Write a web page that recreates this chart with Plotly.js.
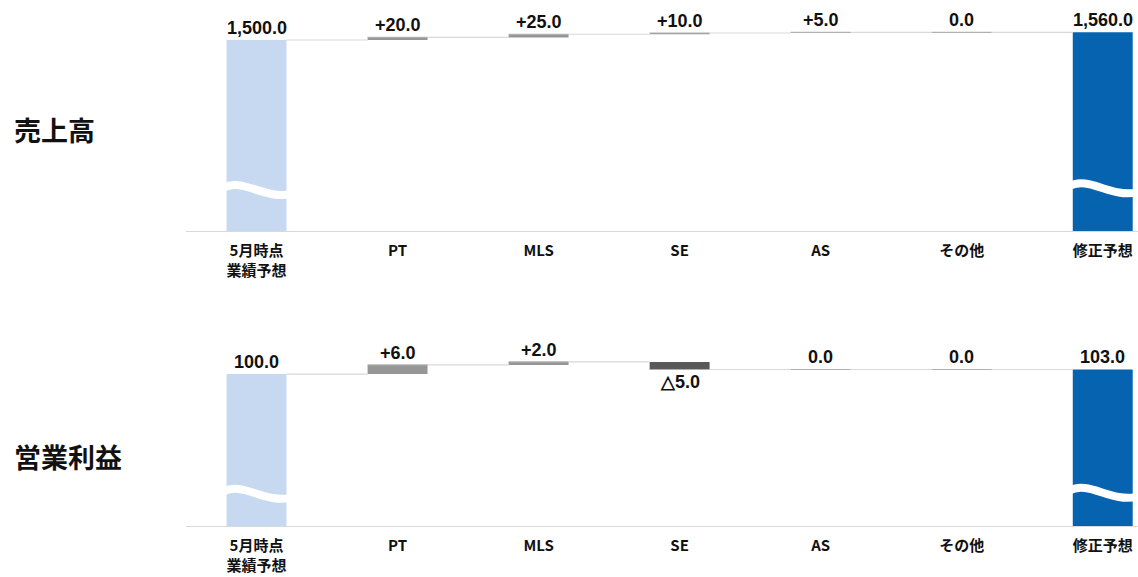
<!DOCTYPE html>
<html>
<head>
<meta charset="utf-8">
<script src="https://cdn.plot.ly/plotly-3.0.1.min.js"></script>
<style>html,body{margin:0;padding:0;background:#fff;}#chart{width:1138px;height:577px;}</style>
</head>
<body>
<div id="chart"></div>
<script>
// ---- data ----
const categories = ['5月時点<br>業績予想', 'PT', 'MLS', 'SE', 'AS', 'その他', '修正予想'];
const rowTitles = ['売上高', '営業利益'];
const salesStart = 1500.0;
const salesDeltas = [20.0, 25.0, 10.0, 5.0, 0.0];
const salesEnd = 1560.0;
const profitStart = 100.0;
const profitDeltas = [6.0, 2.0, -5.0, 0.0, 0.0];
const profitEnd = 103.0;

// ---- styles ----
const W = 1138, H = 577;
const BAR_W = 0.425;
const C_START = '#c6d9f1';
const C_END = '#0563b0';
const C_INC = '#969696';
const C_DEC = '#595959';
const C_CONN = '#d9d9d9';
const NUM_FONT = {family: 'Liberation Sans, Arial, sans-serif', size: 18, color: '#111'};
const CAT_FONT = {family: 'Noto Sans CJK JP, sans-serif', size: 15, color: '#111', weight: 'bold'};
const BREAK_FRAC = 0.225;

function fmt(v, signed) {
  const s = Math.abs(v).toLocaleString('en-US', {minimumFractionDigits: 1, maximumFractionDigits: 1});
  if (!signed) return s;
  if (v > 0) return '+' + s;
  if (v < 0) return '△' + s;
  return s;
}

const traces = [];
const annotations = [];
const shapes = [];

function panel(idx, start, deltas, end) {
  const xa = idx === 0 ? 'x' : 'x2';
  const ya = idx === 0 ? 'y' : 'y2';
  const n = categories.length;
  const levels = [start];
  deltas.forEach(d => levels.push(levels[levels.length - 1] + d));
  levels.push(end);
  // totals
  traces.push({
    type: 'bar', x: [0, n - 1], y: [start, end], base: [0, 0], width: BAR_W,
    marker: {color: [C_START, C_END], line: {width: 0}},
    xaxis: xa, yaxis: ya, hoverinfo: 'skip', showlegend: false
  });
  // deltas
  const dx = deltas.map((_, i) => i + 1);
  const dbase = deltas.map((_, i) => levels[i]);
  traces.push({
    type: 'bar', x: dx, y: deltas, base: dbase, width: BAR_W,
    marker: {color: deltas.map(d => d < 0 ? C_DEC : C_INC), line: {width: 0}},
    xaxis: xa, yaxis: ya, hoverinfo: 'skip', showlegend: false
  });
  // connectors
  const cx = [], cy = [];
  for (let i = 0; i < n - 1; i++) {
    cx.push(i + BAR_W / 2, i + 1 - BAR_W / 2, null);
    cy.push(levels[i], levels[i], null);
  }
  traces.push({
    type: 'scatter', mode: 'lines', x: cx, y: cy,
    line: {color: C_CONN, width: 1.2}, xaxis: xa, yaxis: ya, hoverinfo: 'skip', showlegend: false
  });
  // top edges of delta bars (visible for zero deltas)
  const ex = [], ey = [];
  deltas.forEach((d, i) => {
    ex.push(i + 1 - BAR_W / 2, i + 1 + BAR_W / 2, null);
    ey.push(levels[i + 1], levels[i + 1], null);
  });
  traces.push({
    type: 'scatter', mode: 'lines', x: ex, y: ey,
    line: {color: '#b0b0b0', width: 1.2}, xaxis: xa, yaxis: ya, hoverinfo: 'skip', showlegend: false
  });
  // value labels
  const vals = [start].concat(deltas).concat([end]);
  vals.forEach((v, i) => {
    const isTotal = (i === 0 || i === n - 1);
    const top = isTotal ? v : Math.max(levels[i - 1], levels[i]);
    const bottom = isTotal ? v : Math.min(levels[i - 1], levels[i]);
    const neg = !isTotal && v < 0;
    annotations.push({
      xref: xa, yref: ya, x: i, y: neg ? bottom : top,
      yanchor: neg ? 'top' : 'bottom', yshift: neg ? -1 : 0,
      text: '<b>' + fmt(v, !isTotal) + '</b>', showarrow: false, font: NUM_FONT
    });
  });
  // axis-break waves on total bars
  [[0, start], [n - 1, end]].forEach(([i, v]) => {
    shapes.push({
      type: 'path', xref: xa, yref: ya, xsizemode: 'pixel', ysizemode: 'pixel',
      xanchor: i, yanchor: v * BREAK_FRAC,
      path: 'M -34 0 C -14 11, 8 -12, 34 -6',
      line: {color: '#ffffff', width: 8}, fillcolor: 'rgba(0,0,0,0)', layer: 'above'
    });
  });
  // row title
  annotations.push({
    xref: 'paper', yref: ya + ' domain', x: 12 / W, y: idx === 0 ? 0.48 : 0.40,
    xanchor: 'left', yanchor: 'middle', showarrow: false,
    text: '<b>' + rowTitles[idx] + '</b>',
    font: {family: 'Noto Sans CJK JP, sans-serif', size: 27, color: '#111'}
  });
}

panel(0, salesStart, salesDeltas, salesEnd);
panel(1, profitStart, profitDeltas, profitEnd);

const xBase = {
  domain: [186 / W, 1], range: [-0.5, 6.25], tickmode: 'array',
  tickvals: categories.map((_, i) => i), ticktext: categories.map(c => '<b>' + c + '</b>'),
  showline: true, linecolor: C_CONN, linewidth: 1.2, ticks: 'outside', ticklen: 6,
  tickcolor: 'rgba(0,0,0,0)', showgrid: false, zeroline: false, fixedrange: true,
  tickfont: CAT_FONT
};
const yBase = {visible: false, showgrid: false, zeroline: false, fixedrange: true};

const layout = {
  width: W, height: H, margin: {l: 0, r: 0, t: 0, b: 0},
  paper_bgcolor: '#fff', plot_bgcolor: '#fff', barmode: 'overlay', showlegend: false,
  xaxis: Object.assign({}, xBase, {anchor: 'y'}),
  xaxis2: Object.assign({}, xBase, {anchor: 'y2'}),
  yaxis: Object.assign({}, yBase, {domain: [(H - 231) / H, (H - 20) / H], range: [0, 1657], anchor: 'x'}),
  yaxis2: Object.assign({}, yBase, {domain: [(H - 526) / H, (H - 352) / H], range: [0, 114.5], anchor: 'x2'}),
  annotations: annotations, shapes: shapes
};

Plotly.newPlot('chart', traces, layout, {displayModeBar: false, staticPlot: true});
</script>
</body>
</html>
